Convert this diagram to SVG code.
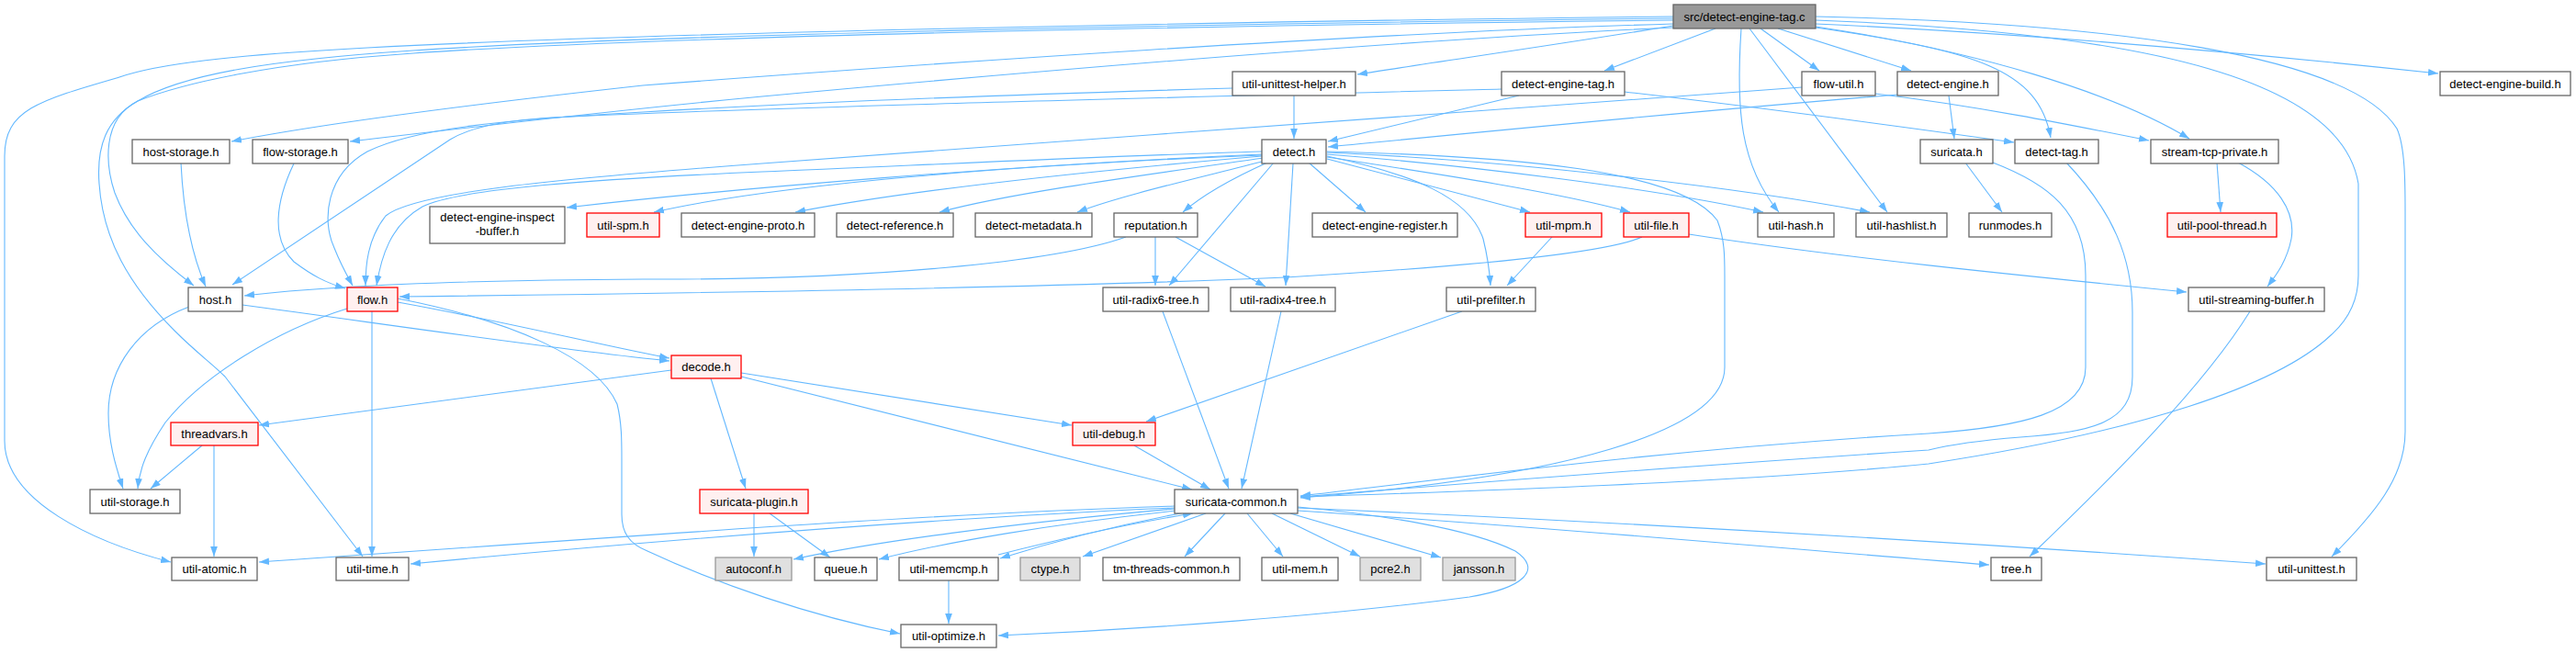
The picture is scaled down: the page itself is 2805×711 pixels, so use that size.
<svg xmlns="http://www.w3.org/2000/svg" width="2805" height="711" viewBox="0 0 2805 711">
<defs>
<marker id="a" viewBox="0 0 10 7" refX="10" refY="3.5" markerWidth="11" markerHeight="8" markerUnits="userSpaceOnUse" orient="auto"><path d="M0,0L10,3.5L0,7z" fill="#63b8ff"/></marker>
<style>
.n rect{fill:#fff;stroke:#666;stroke-width:1.3}
.r rect{fill:#fff0f0;stroke:#ff0000;stroke-width:1.3}
.g rect{fill:#e0e0e0;stroke:#999;stroke-width:1.3}
.root rect{fill:#999;stroke:#666;stroke-width:1.3}
text{font-family:"Liberation Sans",Arial,sans-serif;font-size:13px;fill:#000;text-anchor:middle}
#edges path{fill:none;stroke:#63b8ff;stroke-width:1.1;marker-end:url(#a)}
</style>
</defs>
<rect width="2805" height="711" fill="#fff"/>
<g id="edges">
<path d="M1822,28 C1720,45 1560,68 1478,81"/>
<path d="M1868,31 L1747,77"/>
<path d="M1896,31 C1890,120 1895,180 1937,231"/>
<path d="M1905,31 L2055,231"/>
<path d="M1917,31 L1981,77"/>
<path d="M1936,31 L2081,77"/>
<path d="M1977,26 C2200,36 2450,58 2655,80"/>
<path d="M1977,30 C2150,55 2220,75 2233,150"/>
<path d="M1977,29 C2150,55 2300,100 2384,151"/>
<path d="M1977,18 C2300,25 2560,60 2610,140 C2619,160 2619,200 2619,230 L2619,470 C2619,520 2585,560 2539,606"/>
<path d="M1977,22 C2350,36 2550,90 2568,200 L2568,300 C2568,330 2555,350 2538,365 C2480,420 2330,470 2100,505 C1900,525 1600,535 1416,541"/>
<path d="M1822,18 C1300,24 700,36 400,52 C250,60 170,70 130,84 C40,110 5,120 5,170 L5,480 C5,545 100,590 186,612"/>
<path d="M1822,20 C1300,26 700,38 450,55 C300,65 200,80 150,110 C115,130 105,160 108,200 C112,260 140,310 190,360 C215,385 230,395 245,410 L395,606"/>
<path d="M1822,22 C1300,28 700,40 450,58 C300,68 200,90 150,110 C110,130 115,180 125,210 C140,250 170,280 211,311"/>
<path d="M1822,26 C1500,35 1000,70 700,93 C500,115 350,135 252,154"/>
<path d="M1822,30 C1500,45 1100,80 830,105 C650,122 500,140 381,154"/>
<path d="M1635,97 C1200,108 800,118 600,128 C540,132 510,140 490,152 L253,310"/>
<path d="M1342,96 C1100,103 900,110 700,122 C550,130 450,140 400,165 C355,190 350,240 364,270 C372,290 378,300 384,311"/>
<path d="M1962,95 C1700,115 1200,150 830,178 C600,195 450,210 420,235 C400,260 398,290 398,311"/>
<path d="M1374,165 C1200,170 1000,180 830,187 C650,195 500,205 460,225 C425,245 415,280 410,311"/>
<path d="M1374,168 C1100,180 800,205 617,226"/>
<path d="M1374,169 C1100,180 850,200 712,231"/>
<path d="M1374,170 C1200,185 1000,205 866,231"/>
<path d="M1376,172 C1250,190 1100,210 1023,231"/>
<path d="M1378,175 C1300,195 1220,213 1173,231"/>
<path d="M1380,177 C1340,195 1310,212 1288,231"/>
<path d="M1387,177 L1273,311"/>
<path d="M1408,178 L1400,311"/>
<path d="M1425,177 L1487,231"/>
<path d="M1445,173 L1666,231"/>
<path d="M1445,171 C1570,190 1700,210 1775,231"/>
<path d="M1445,168 C1600,180 1800,205 1920,231"/>
<path d="M1445,166 C1650,175 1900,205 2036,231"/>
<path d="M1445,170 C1540,190 1600,215 1615,260 C1620,280 1622,295 1623,311"/>
<path d="M1445,165 C1650,170 1830,185 1870,240 C1878,260 1878,280 1878,300 L1878,400 C1878,470 1700,520 1416,542"/>
<path d="M1226,258 C1150,285 950,305 700,304 C500,305 350,312 266,322"/>
<path d="M1258,258 L1258,311"/>
<path d="M1280,258 L1378,312"/>
<path d="M1409,104 L1409,151"/>
<path d="M1654,104 L1446,154"/>
<path d="M2066,103 C1800,125 1600,145 1446,160"/>
<path d="M1769,100 C1900,115 2050,135 2193,155"/>
<path d="M2042,102 C2150,115 2250,135 2340,153"/>
<path d="M2122,104 L2128,151"/>
<path d="M2140,177 L2180,231"/>
<path d="M2170,177 C2230,200 2271,230 2271,300 L2271,400 C2271,450 2200,465 2100,472 C1800,490 1550,525 1416,540"/>
<path d="M2250,177 C2300,230 2322,280 2322,340 L2322,410 C2322,460 2280,470 2200,476 C2150,480 2120,485 2100,490 C1800,510 1550,530 1416,541"/>
<path d="M2414,177 L2418,231"/>
<path d="M2437,177 C2480,200 2500,230 2495,260 C2490,285 2478,300 2469,312"/>
<path d="M2450,339 C2400,420 2300,520 2210,606"/>
<path d="M1839,255 C2000,280 2200,300 2381,318"/>
<path d="M1788,258 C1750,275 1600,290 1400,302 C1100,315 700,320 435,323"/>
<path d="M1690,258 L1641,311"/>
<path d="M1592,339 L1248,459"/>
<path d="M197,177 C200,240 210,280 224,312"/>
<path d="M320,178 C300,220 295,260 320,285 C340,300 355,308 376,314"/>
<path d="M264,332 C400,350 600,380 729,393"/>
<path d="M433,329 C550,350 650,375 729,390"/>
<path d="M433,325 C560,350 650,390 672,440 C677,460 677,480 677,500 L677,560 C677,580 685,592 705,600 C780,635 880,670 980,690"/>
<path d="M378,336 C300,360 220,410 180,460 C160,490 152,510 150,532"/>
<path d="M206,334 C150,355 118,400 118,450 C118,480 125,505 134,532"/>
<path d="M405,339 L405,606"/>
<path d="M731,403 L282,463"/>
<path d="M774,412 L812,532"/>
<path d="M807,406 L1167,463"/>
<path d="M807,410 L1298,533"/>
<path d="M1235,485 L1318,533"/>
<path d="M1266,339 L1338,532"/>
<path d="M1395,339 L1352,532"/>
<path d="M220,485 L164,532"/>
<path d="M233,485 L233,606"/>
<path d="M821,559 L821,606"/>
<path d="M838,559 L904,607"/>
<path d="M1279,551 C1000,560 700,583 282,612"/>
<path d="M1279,553 C1000,565 700,590 447,614"/>
<path d="M1279,554 C1100,570 950,590 864,609"/>
<path d="M1281,556 C1150,570 1030,590 957,609"/>
<path d="M1290,558 C1200,575 1130,595 1089,608"/>
<path d="M1087,604 C1150,588 1230,570 1299,559"/>
<path d="M1313,559 L1179,606"/>
<path d="M1334,559 L1290,606"/>
<path d="M1358,559 L1397,606"/>
<path d="M1385,559 L1481,606"/>
<path d="M1405,559 L1569,607"/>
<path d="M1413,552 C1500,560 1600,575 1650,600 C1680,620 1660,640 1600,650 C1450,670 1250,685 1087,692"/>
<path d="M1413,556 C1700,575 1950,598 2166,615"/>
<path d="M1413,553 C1800,570 2200,595 2467,614"/>
<path d="M1033,632 L1033,679"/>
</g>
<g id="n_src" class="root"><rect x="1822" y="5" width="155" height="26"/><text x="1899.5" y="22.5">src/detect-engine-tag.c</text></g>
<g id="n_uuh" class="n"><rect x="1342" y="78" width="134" height="26"/><text x="1409" y="95.5">util-unittest-helper.h</text></g>
<g id="n_det" class="n"><rect x="1635" y="78" width="134" height="26"/><text x="1702" y="95.5">detect-engine-tag.h</text></g>
<g id="n_fu" class="n"><rect x="1962" y="78" width="80" height="26"/><text x="2002" y="95.5">flow-util.h</text></g>
<g id="n_de" class="n"><rect x="2066" y="78" width="110" height="26"/><text x="2121" y="95.5">detect-engine.h</text></g>
<g id="n_deb" class="n"><rect x="2657" y="78" width="142" height="26"/><text x="2728" y="95.5">detect-engine-build.h</text></g>
<g id="n_hs" class="n"><rect x="144" y="152" width="106" height="26"/><text x="197" y="169.5">host-storage.h</text></g>
<g id="n_fs" class="n"><rect x="275" y="152" width="104" height="26"/><text x="327" y="169.5">flow-storage.h</text></g>
<g id="n_dh" class="n"><rect x="1374" y="152" width="70" height="26"/><text x="1409" y="169.5">detect.h</text></g>
<g id="n_sh" class="n"><rect x="2091" y="152" width="79" height="26"/><text x="2130.5" y="169.5">suricata.h</text></g>
<g id="n_dt" class="n"><rect x="2194" y="152" width="91" height="26"/><text x="2239.5" y="169.5">detect-tag.h</text></g>
<g id="n_stp" class="n"><rect x="2342" y="152" width="139" height="26"/><text x="2411.5" y="169.5">stream-tcp-private.h</text></g>
<g id="n_deib" class="n"><rect x="468" y="225" width="147" height="40"/><text x="541.5" y="241">detect-engine-inspect</text><text x="541.5" y="256">-buffer.h</text></g>
<g id="n_spm" class="r"><rect x="639" y="232" width="79" height="26"/><text x="678.5" y="249.5">util-spm.h</text></g>
<g id="n_dep" class="n"><rect x="742" y="232" width="145" height="26"/><text x="814.5" y="249.5">detect-engine-proto.h</text></g>
<g id="n_dr" class="n"><rect x="911" y="232" width="127" height="26"/><text x="974.5" y="249.5">detect-reference.h</text></g>
<g id="n_dm" class="n"><rect x="1062" y="232" width="127" height="26"/><text x="1125.5" y="249.5">detect-metadata.h</text></g>
<g id="n_rep" class="n"><rect x="1213" y="232" width="91" height="26"/><text x="1258.5" y="249.5">reputation.h</text></g>
<g id="n_der" class="n"><rect x="1429" y="232" width="158" height="26"/><text x="1508" y="249.5">detect-engine-register.h</text></g>
<g id="n_mpm" class="r"><rect x="1661" y="232" width="83" height="26"/><text x="1702.5" y="249.5">util-mpm.h</text></g>
<g id="n_file" class="r"><rect x="1768" y="232" width="71" height="26"/><text x="1803.5" y="249.5">util-file.h</text></g>
<g id="n_hash" class="n"><rect x="1914" y="232" width="83" height="26"/><text x="1955.5" y="249.5">util-hash.h</text></g>
<g id="n_hashlist" class="n"><rect x="2021" y="232" width="99" height="26"/><text x="2070.5" y="249.5">util-hashlist.h</text></g>
<g id="n_runmodes" class="n"><rect x="2144" y="232" width="90" height="26"/><text x="2189" y="249.5">runmodes.h</text></g>
<g id="n_upt" class="r"><rect x="2360" y="232" width="119" height="26"/><text x="2419.5" y="249.5">util-pool-thread.h</text></g>
<g id="n_host" class="n"><rect x="205" y="313" width="59" height="26"/><text x="234.5" y="330.5">host.h</text></g>
<g id="n_flow" class="r"><rect x="378" y="313" width="55" height="26"/><text x="405.5" y="330.5">flow.h</text></g>
<g id="n_r6" class="n"><rect x="1201" y="313" width="115" height="26"/><text x="1258.5" y="330.5">util-radix6-tree.h</text></g>
<g id="n_r4" class="n"><rect x="1340" y="313" width="114" height="26"/><text x="1397" y="330.5">util-radix4-tree.h</text></g>
<g id="n_pref" class="n"><rect x="1575" y="313" width="97" height="26"/><text x="1623.5" y="330.5">util-prefilter.h</text></g>
<g id="n_usb" class="n"><rect x="2383" y="313" width="148" height="26"/><text x="2457" y="330.5">util-streaming-buffer.h</text></g>
<g id="n_decode" class="r"><rect x="731" y="387" width="76" height="25"/><text x="769" y="404">decode.h</text></g>
<g id="n_tv" class="r"><rect x="186" y="460" width="95" height="25"/><text x="233.5" y="477">threadvars.h</text></g>
<g id="n_dbg" class="r"><rect x="1168" y="460" width="90" height="25"/><text x="1213" y="477">util-debug.h</text></g>
<g id="n_us" class="n"><rect x="98" y="533" width="98" height="26"/><text x="147" y="550.5">util-storage.h</text></g>
<g id="n_sp" class="r"><rect x="762" y="533" width="118" height="26"/><text x="821" y="550.5">suricata-plugin.h</text></g>
<g id="n_sc" class="n"><rect x="1279" y="533" width="134" height="26"/><text x="1346" y="550.5">suricata-common.h</text></g>
<g id="n_ua" class="n"><rect x="187" y="607" width="93" height="25"/><text x="233.5" y="624">util-atomic.h</text></g>
<g id="n_ut" class="n"><rect x="366" y="607" width="79" height="25"/><text x="405.5" y="624">util-time.h</text></g>
<g id="n_ac" class="g"><rect x="779" y="607" width="83" height="25"/><text x="820.5" y="624">autoconf.h</text></g>
<g id="n_q" class="n"><rect x="887" y="607" width="68" height="25"/><text x="921" y="624">queue.h</text></g>
<g id="n_mc" class="n"><rect x="979" y="607" width="108" height="25"/><text x="1033" y="624">util-memcmp.h</text></g>
<g id="n_ct" class="g"><rect x="1111" y="607" width="65" height="25"/><text x="1143.5" y="624">ctype.h</text></g>
<g id="n_tm" class="n"><rect x="1201" y="607" width="149" height="25"/><text x="1275.5" y="624">tm-threads-common.h</text></g>
<g id="n_mem" class="n"><rect x="1374" y="607" width="83" height="25"/><text x="1415.5" y="624">util-mem.h</text></g>
<g id="n_pcre" class="g"><rect x="1481" y="607" width="66" height="25"/><text x="1514" y="624">pcre2.h</text></g>
<g id="n_jan" class="g"><rect x="1571" y="607" width="79" height="25"/><text x="1610.5" y="624">jansson.h</text></g>
<g id="n_tree" class="n"><rect x="2168" y="607" width="55" height="25"/><text x="2195.5" y="624">tree.h</text></g>
<g id="n_uu" class="n"><rect x="2468" y="607" width="98" height="25"/><text x="2517" y="624">util-unittest.h</text></g>
<g id="n_uo" class="n"><rect x="981" y="680" width="104" height="25"/><text x="1033" y="697">util-optimize.h</text></g>
</svg>
